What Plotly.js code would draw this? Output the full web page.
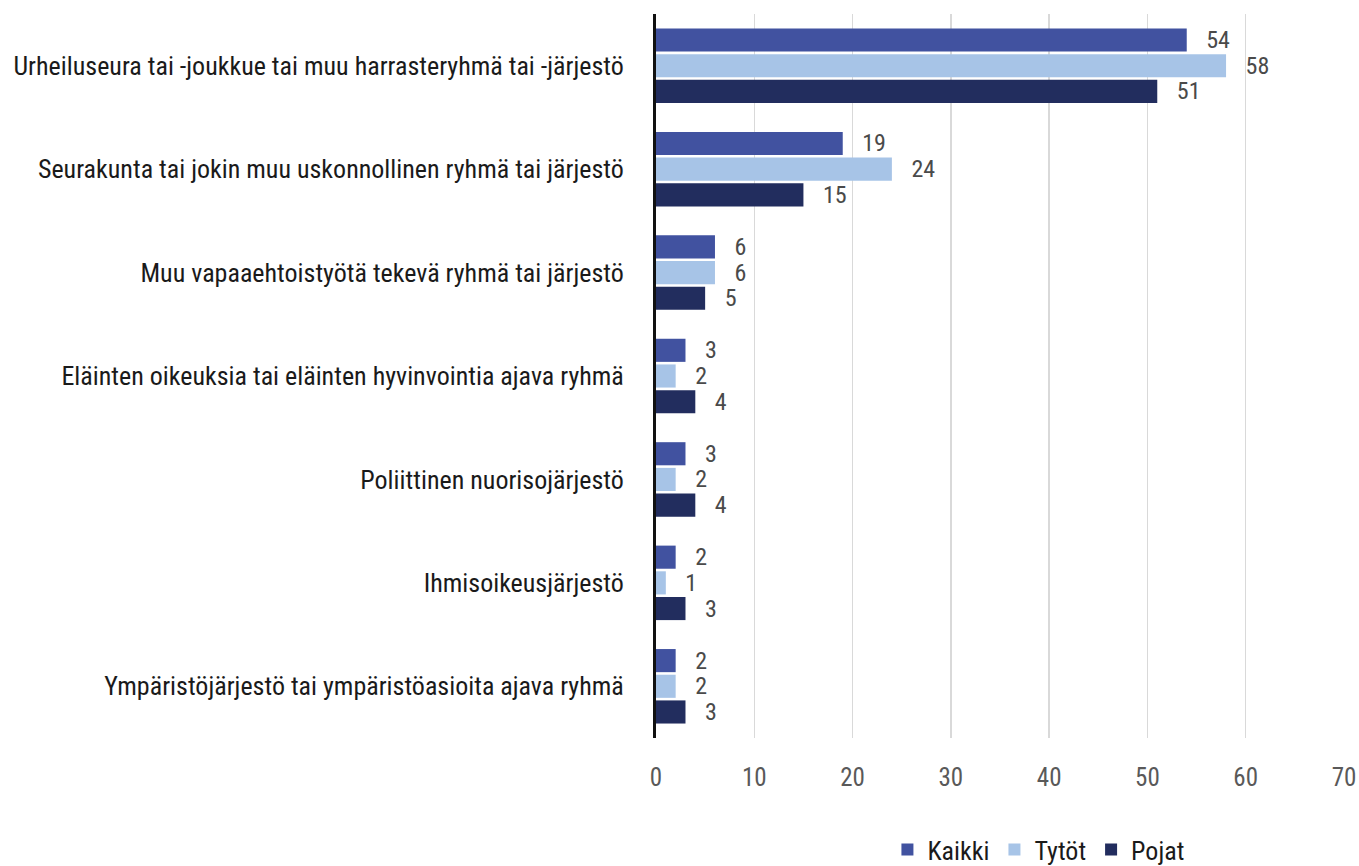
<!DOCTYPE html>
<html><head><meta charset="utf-8">
<script src="https://cdn.plot.ly/plotly-3.0.1.min.js"></script>
<style>html,body{margin:0;padding:0;background:#fff;}#chart{width:1359px;height:866px;}</style>
</head><body><div id="chart"></div>
<script>
var categories = [
  "Urheiluseura tai -joukkue tai muu harrasteryhmä tai -järjestö",
  "Seurakunta tai jokin muu uskonnollinen ryhmä tai järjestö",
  "Muu vapaaehtoistyötä tekevä ryhmä tai järjestö",
  "Eläinten oikeuksia tai eläinten hyvinvointia ajava ryhmä",
  "Poliittinen nuorisojärjestö",
  "Ihmisoikeusjärjestö",
  "Ympäristöjärjestö tai ympäristöasioita ajava ryhmä"
];
var seriesNames = ["Kaikki", "Tytöt", "Pojat"];
var kaikki = [54, 19, 6, 3, 3, 2, 2];
var tytot  = [58, 24, 6, 2, 2, 1, 2];
var pojat  = [51, 15, 5, 4, 4, 3, 3];
var xTicks = [0, 10, 20, 30, 40, 50, 60, 70];

var colors = ["#4152A0", "#A7C4E7", "#222D5E"];
var FONT = "'Liberation Sans Narrow', 'Arial Narrow', 'Roboto Condensed', sans-serif";
var values = [kaikki, tytot, pojat];
var traces = values.map(function(v, i){
  return {
    type: 'bar', orientation: 'h', name: seriesNames[i],
    x: v, y: categories,
    marker: {color: colors[i]},
    text: v.map(function(n){ return '\u00a0\u00a0\u00a0' + n; }),
    textposition: 'outside', cliponaxis: false, constraintext: 'none',
    textfont: {family: FONT, size: 24, color: '#4a4a4a'},
    hoverinfo: 'x+name'
  };
});
var layout = {
  width: 1359, height: 866,
  margin: {l: 656, r: 15, t: 14, b: 128},
  barmode: 'group', bargap: 0.255, bargroupgap: 0.1,
  paper_bgcolor: '#fff', plot_bgcolor: '#fff',
  font: {family: FONT, color: '#1a1a1a'},
  xaxis: {
    range: [0, 70], tickvals: xTicks, ticktext: xTicks.map(String),
    showgrid: true, gridcolor: '#D9D9D9', gridwidth: 1.5,
    zeroline: false, showline: false,
    tickfont: {family: FONT, size: 25, color: '#595959'},
    ticks: '', ticklabelstandoff: 22, fixedrange: true
  },
  yaxis: {
    autorange: 'reversed', showline: true, linecolor: '#111', linewidth: 3,
    showgrid: false, zeroline: false, ticks: '',
    tickfont: {family: FONT, size: 26, color: '#1a1a1a'},
    ticklabelstandoff: 24, fixedrange: true
  },
  showlegend: true,
  legend: {orientation: 'h', x: 0.653, xanchor: 'left', xref: 'container',
    y: 0.019, yanchor: 'middle', yref: 'container',
    font: {family: FONT, size: 26, color: '#1a1a1a'}, traceorder: 'normal',
    itemwidth: 30, tracegroupgap: 0}
};
Plotly.newPlot('chart', traces, layout, {displayModeBar: false, staticPlot: true});
</script></body></html>
